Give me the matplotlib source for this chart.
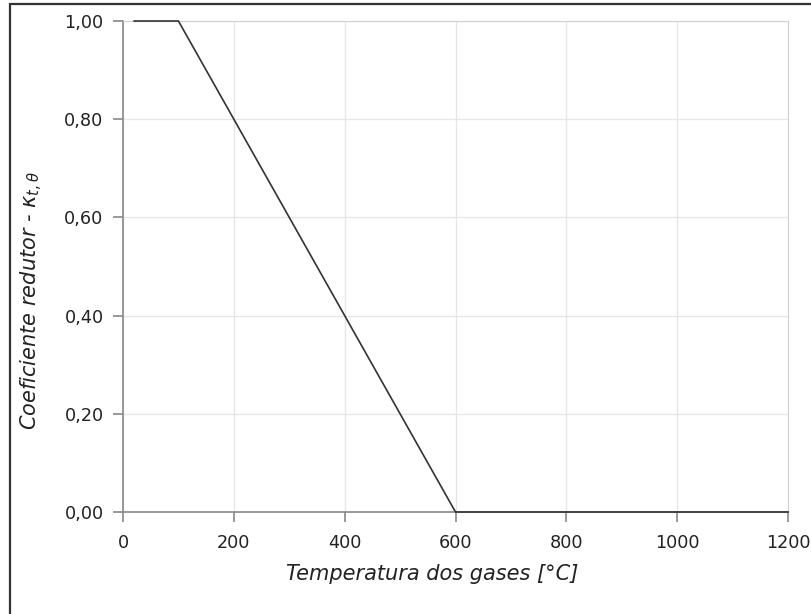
import matplotlib.pyplot as plt
from matplotlib.patches import Rectangle
from matplotlib.ticker import FuncFormatter

# pontos da curva (temperatura dos gases x coeficiente redutor)
temp = [20, 100, 600, 1200]
coef = [1.0, 1.0, 0.0, 0.0]

x_ticks = [0, 200, 400, 600, 800, 1000, 1200]
y_ticks = [0.0, 0.2, 0.4, 0.6, 0.8, 1.0]

plt.rcParams['font.family'] = 'DejaVu Sans'

fig = plt.figure(figsize=(8.11, 6.14), dpi=100)
ax = fig.add_axes([123/811, 1 - 512/614, (788-123)/811, (512-21)/614])

# moldura externa
fig.patches.append(Rectangle((10/811, -0.05), 1.0, 1 - 4/614 + 0.05,
                             transform=fig.transFigure, fill=False,
                             edgecolor='#333333', linewidth=1.6))

ax.plot(temp, coef, color='#333333', linewidth=1.2, clip_on=False, zorder=3)

ax.set_xlim(0, 1200)
ax.set_ylim(0, 1.0)
ax.set_xticks(x_ticks)
ax.set_yticks(y_ticks)
ax.yaxis.set_major_formatter(FuncFormatter(lambda v, p: f"{v:.2f}".replace('.', ',')))

ax.grid(True, color='#e6e6e6', linewidth=0.9)
ax.set_axisbelow(True)
for s in ('top', 'right'):
    ax.spines[s].set_color('#d0d0d0')
for s in ('left', 'bottom'):
    ax.spines[s].set_color('#888888')
    ax.spines[s].set_linewidth(1.2)

ax.tick_params(axis='both', colors='#888888', length=7, width=1.2,
               labelcolor='#222222', labelsize=12.7)
ax.tick_params(axis='y', pad=7)
ax.tick_params(axis='x', pad=9)

ax.set_xlabel("Temperatura dos gases [°C]", fontsize=15, style='italic',
              color='#222222')
ax.set_ylabel(r"Coeficiente redutor - $\kappa_{t,\theta}$", fontsize=15,
              style='italic', color='#222222')
ax.xaxis.set_label_coords(0.465, -0.105)
ax.yaxis.set_label_coords(-0.118, 0.43)

fig.savefig("out.png", dpi=100)
